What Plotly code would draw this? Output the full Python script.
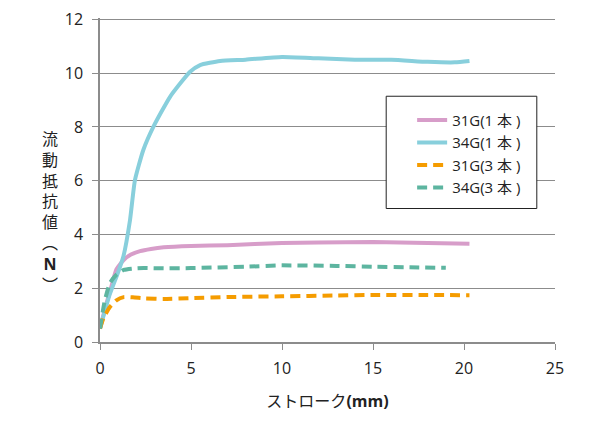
"""Flow resistance vs stroke, recreated with Plotly."""
import plotly.graph_objects as go

FONT = "Open Sans, Noto Sans CJK JP, sans-serif"

# stroke (mm) / flow resistance (N)
x_31g_1 = [0, 0.3, 0.6, 0.9, 1.3, 1.7, 2.2, 2.8, 3.5, 5, 7, 10, 12, 15, 18, 20.3]
y_31g_1 = [0.5, 1.3, 2.0, 2.7, 3.05, 3.25, 3.38, 3.46, 3.52, 3.57, 3.6, 3.68, 3.7, 3.72, 3.68, 3.65]

x_34g_1 = [0, 0.5, 1.0, 1.28, 1.65, 1.92, 2.38, 2.93, 3.85, 4.95, 5.5, 6.6, 8, 10, 12, 14, 16, 18, 19.5, 20.3]
y_34g_1 = [0.5, 1.7, 2.6, 3.17, 4.54, 6.02, 7.14, 8.0, 9.12, 10.05, 10.3, 10.45, 10.5, 10.6, 10.55, 10.5, 10.5, 10.42, 10.4, 10.45]

x_31g_3 = [0, 0.2, 0.55, 0.9, 1.3, 1.8, 2.5, 3.5, 5, 7, 10, 13, 15, 18, 20.3]
y_31g_3 = [0.5, 0.9, 1.31, 1.55, 1.67, 1.66, 1.62, 1.6, 1.63, 1.67, 1.7, 1.73, 1.75, 1.75, 1.74]

x_34g_3 = [0, 0.25, 0.55, 0.9, 1.3, 1.8, 2.4, 3.5, 5, 8, 10, 13, 15, 17, 19]
y_34g_3 = [0.5, 1.5, 2.2, 2.5, 2.68, 2.73, 2.75, 2.74, 2.75, 2.8, 2.85, 2.83, 2.8, 2.78, 2.76]

series = [
    ("31G(1 本 )", x_31g_1, y_31g_1, "#d79dc9", "solid"),
    ("34G(1 本 )", x_34g_1, y_34g_1, "#88cfdc", "solid"),
    ("31G(3 本 )", x_31g_3, y_31g_3, "#f59c00", "10px,6px"),
    ("34G(3 本 )", x_34g_3, y_34g_3, "#5db5a0", "10px,6px"),
]

x_ticks = [0, 5, 10, 15, 20, 25]
y_ticks = [0, 2, 4, 6, 8, 10, 12]

fig = go.Figure()
for name, xs, ys, color, dash in series:
    fig.add_trace(
        go.Scatter(
            x=xs,
            y=ys,
            name=name,
            mode="lines",
            line=dict(color=color, width=4, dash=dash, shape="spline", smoothing=0.5),
        )
    )

fig.update_layout(
    width=600,
    height=421,
    margin=dict(l=92, r=53, t=10, b=87),
    plot_bgcolor="white",
    paper_bgcolor="white",
    font=dict(family=FONT, size=16, color="#222"),
    legend=dict(
        x=0.686,
        y=0.735,
        xanchor="left",
        yanchor="top",
        bgcolor="rgba(0,0,0,0)",
        borderwidth=0,
        font=dict(size=15),
    ),
)
# legend frame, drawn as a shape so its size matches the original box
fig.add_shape(
    type="rect",
    xref="paper",
    yref="paper",
    x0=0.629,
    x1=0.960,
    y0=0.412,
    y1=0.7585,
    line=dict(color="#222", width=1),
    fillcolor="white",
    layer="above",
)
fig.update_xaxes(
    range=[0, 25],
    tickvals=x_ticks,
    showgrid=False,
    showline=True,
    linecolor="#8c8c8c",
    linewidth=1.5,
    ticks="outside",
    ticklen=6,
    tickcolor="#8c8c8c",
    ticklabelstandoff=5,
    ticklabeloverflow="allow",
    automargin=False,
    zeroline=False,
    title=dict(text="ストローク<b>(mm)</b>", font=dict(size=16), standoff=18),
)
# a hair above 12 so the top gridline is not dropped at the edge
fig.update_yaxes(
    range=[0, 12.05],
    tickvals=y_ticks,
    showgrid=True,
    gridcolor="#8c8c8c",
    gridwidth=1,
    showline=True,
    linecolor="#8c8c8c",
    linewidth=1.5,
    ticks="outside",
    ticklen=6,
    tickcolor="#8c8c8c",
    ticklabelstandoff=6,
    ticklabeloverflow="allow",
    automargin=False,
    zeroline=False,
)
fig.add_annotation(
    text="流<br>動<br>抵<br>抗<br>値<br>︵<br><b>N</b><br>︶",
    xref="paper",
    yref="paper",
    x=-0.11,
    y=0.40,
    xanchor="center",
    yanchor="middle",
    showarrow=False,
    font=dict(size=16),
)

fig.write_html("out.html")
